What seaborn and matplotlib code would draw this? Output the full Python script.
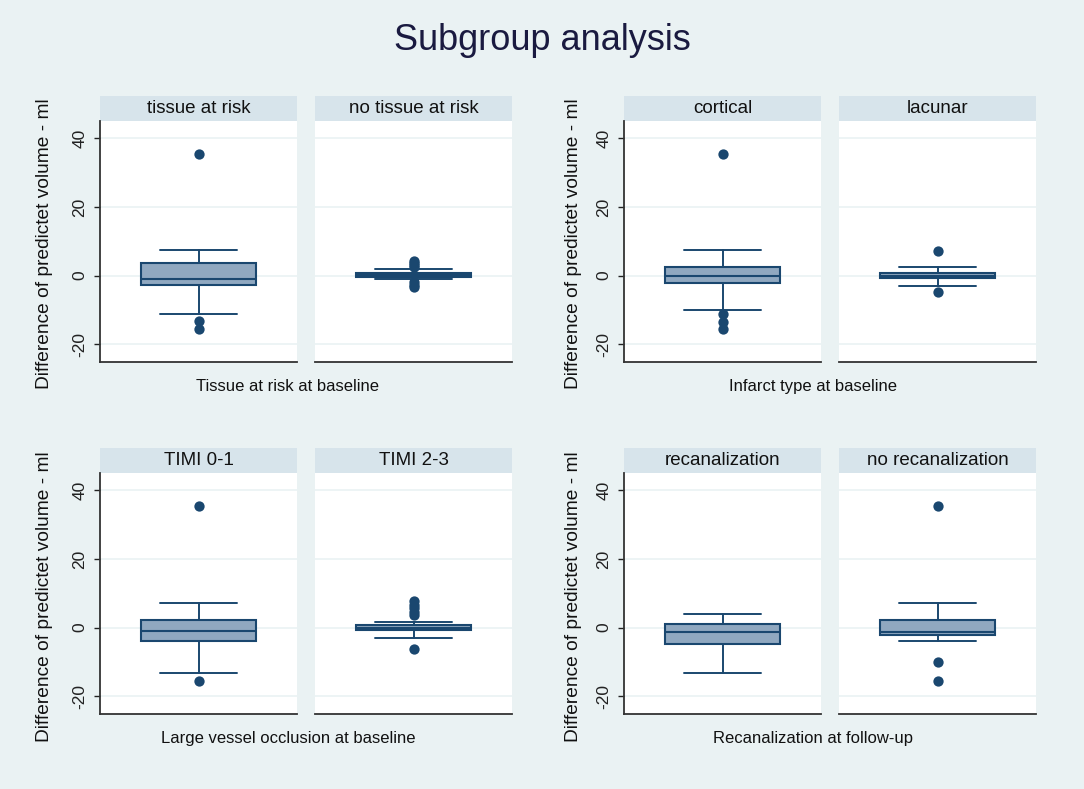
import numpy as np
import pandas as pd
import seaborn as sns
import matplotlib.pyplot as plt
from matplotlib.patches import Rectangle

# text
title = "Subgroup analysis"
ylab = "Difference of predictet volume - ml"
group_titles = ["Tissue at risk at baseline", "Infarct type at baseline",
                "Large vessel occlusion at baseline", "Recanalization at follow-up"]
panel_names = ["tissue at risk", "no tissue at risk", "cortical", "lacunar",
               "TIMI 0-1", "TIMI 2-3", "recanalization", "no recanalization"]

# box summaries (one per panel, same order as panel_names)
q1 = [-2.6, -0.4, -2.2, -0.6, -3.8, -0.8, -4.8, -2.1]
med = [-1.0, 0.2, -0.2, 0.0, -1.0, -0.1, -1.2, -1.2]
q3 = [3.8, 0.8, 2.6, 0.7, 2.1, 0.7, 1.1, 2.1]
whis_lo = [-11.2, -1.0, -9.9, -2.9, -13.3, -2.9, -13.3, -3.9]
whis_hi = [7.4, 1.9, 7.4, 2.4, 7.2, 1.7, 4.1, 7.2]
outliers = [
    [35.5, -13.3, -15.6],
    [4.4, 3.8, 3.2, 2.6, -2.0, -2.6, -3.2],
    [35.5, -11.2, -13.4, -15.6],
    [7.2, -4.8],
    [35.4, -15.7],
    [7.7, 6.7, 5.6, 4.6, 3.6, -6.1],
    [],
    [35.4, -10.0, -15.6],
]
yticks = [-20, 0, 20, 40]

navy = "#1A476F"
box_fill = "#90A8C0"
bg = "#EAF2F3"
strip_col = "#D7E4EB"

sns.set_theme(style="white")
plt.rcParams['font.family'] = ['Liberation Sans', 'DejaVu Sans']

W, H = 1084, 789
fig = plt.figure(figsize=(W / 100, H / 100), dpi=100, facecolor=bg)

lefts = [100, 315, 624, 839]
tops = [121, 473]
aw, ah = 197, 241
strip_h = 25

for g in range(4):
    row = g // 2
    col = g % 2
    for p in range(2):
        i = 2 * g + p
        x0 = lefts[2 * col + p]
        y0 = tops[row]
        ax = fig.add_axes([x0 / W, 1 - (y0 + ah) / H, aw / W, ah / H])
        ax.set_facecolor("white")
        ax.set_ylim(-25.2, 45.1)
        ax.set_xlim(-0.5, 0.5)
        for t in yticks:
            ax.axhline(t, color=bg, lw=1.2, zorder=0)

        stats = [dict(med=med[i], q1=q1[i], q3=q3[i], whislo=whis_lo[i],
                      whishi=whis_hi[i], fliers=[])]
        ax.bxp(stats, positions=[0], widths=0.584, capwidths=0.39,
               patch_artist=True, showfliers=False,
               boxprops=dict(facecolor=box_fill, edgecolor=navy, lw=1.5),
               medianprops=dict(color=navy, lw=1.5),
               whiskerprops=dict(color=navy, lw=1.4),
               capprops=dict(color=navy, lw=1.4))
        if outliers[i]:
            pts = pd.DataFrame({"x": np.zeros(len(outliers[i])), "y": outliers[i]})
            sns.scatterplot(data=pts, x="x", y="y", ax=ax, color=navy, s=55,
                            linewidth=0, legend=False, zorder=5)
        ax.set_xlabel("")
        ax.set_ylabel("")
        ax.set_xticks([])
        for s in ["top", "right"]:
            ax.spines[s].set_visible(False)
        ax.spines["bottom"].set_color("#333333")
        ax.spines["bottom"].set_linewidth(1.3)
        if p == 0:
            ax.spines["left"].set_color("#333333")
            ax.spines["left"].set_linewidth(1.3)
            ax.set_yticks(yticks)
            ax.set_yticklabels([str(t) for t in yticks], rotation=90, va="center")
            ax.tick_params(axis="y", length=4, width=1, pad=5, labelsize=12.5,
                           colors="#222222", left=True)
        else:
            ax.spines["left"].set_visible(False)
            ax.set_yticks([])

        # strip header
        sh = strip_h / ah
        ax.add_patch(Rectangle((0, 1), 1, sh, transform=ax.transAxes,
                               facecolor=strip_col, edgecolor="none", clip_on=False))
        ax.text(0.5, 1 + sh / 2, panel_names[i], transform=ax.transAxes,
                ha="center", va="center", fontsize=13.5, color="#111111")

    gx = [288, 813][col]
    gy = [386, 738][row]
    fig.text(gx / W, 1 - gy / H, group_titles[g], ha="center", va="center",
             fontsize=12, color="#111111")
    lx = [45, 573][col]
    ly = [244, 597][row]
    fig.text(lx / W, 1 - ly / H, ylab, ha="center", va="center", rotation=90,
             fontsize=13.8, color="#111111")

fig.text(0.5, 1 - 40 / H, title, ha="center", va="center", fontsize=26,
         color="#1a1a40")

fig.savefig("out.png", dpi=100, facecolor=bg)
